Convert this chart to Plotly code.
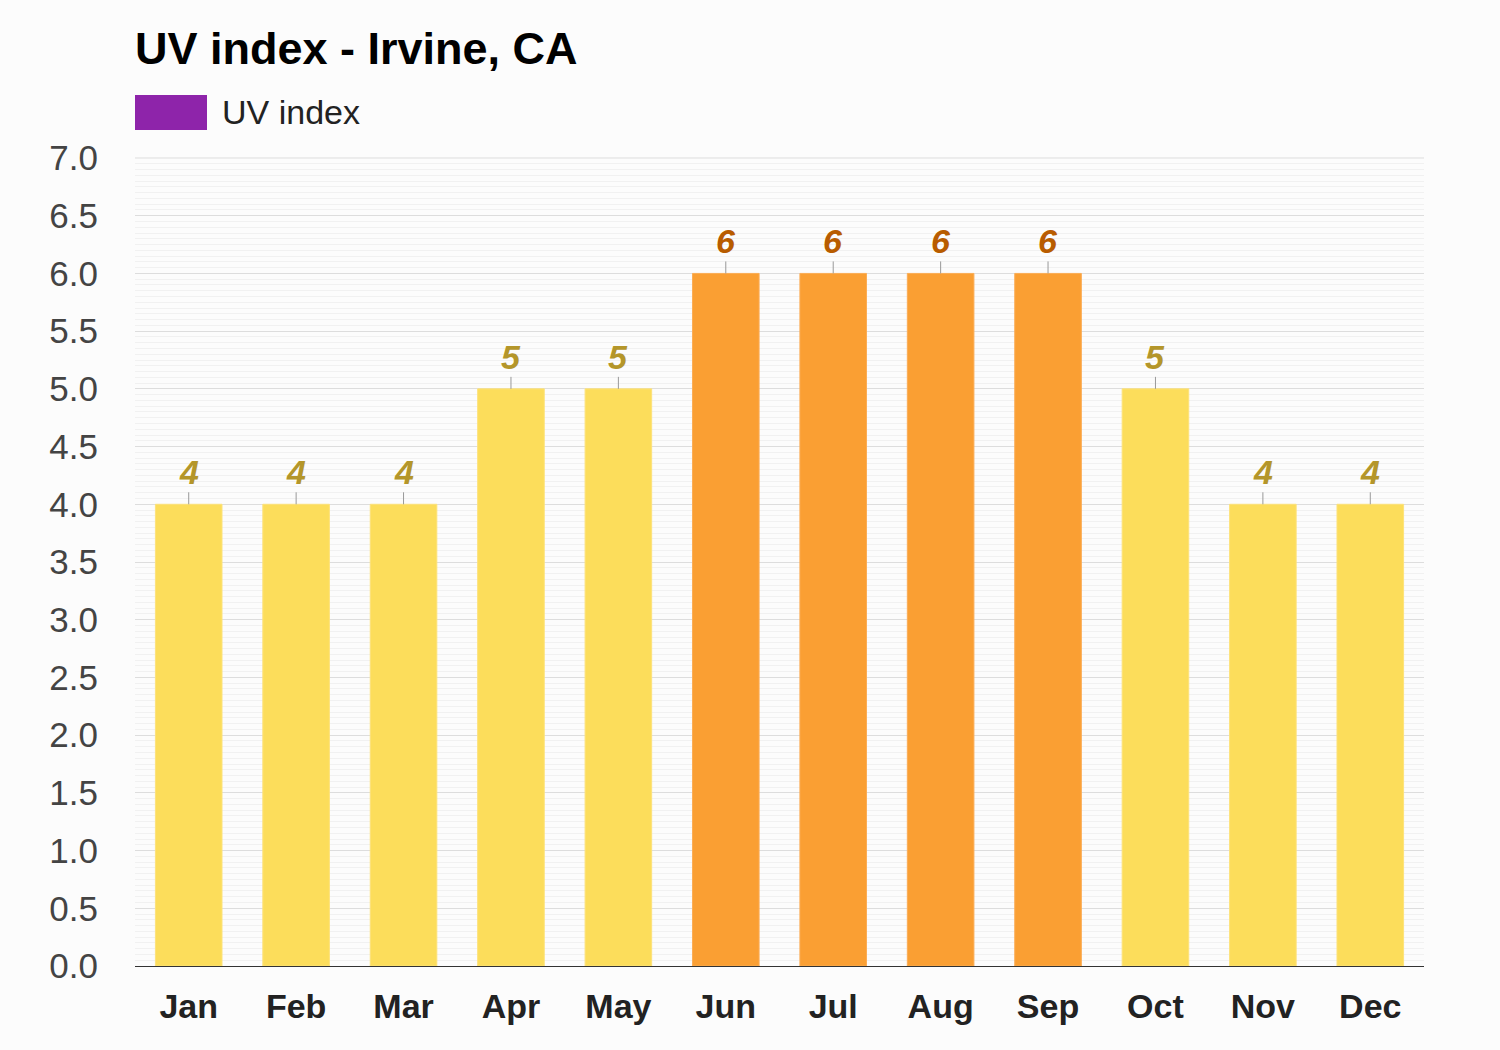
import plotly.graph_objects as go

months = ["Jan", "Feb", "Mar", "Apr", "May", "Jun", "Jul", "Aug", "Sep", "Oct", "Nov", "Dec"]
uv_index = [4, 4, 4, 5, 5, 6, 6, 6, 6, 5, 4, 4]
bar_colors = ["#fcdd5b" if v < 6 else "#fa9f33" for v in uv_index]
edge_colors = ["#fde27a" if v < 6 else "#fbad55" for v in uv_index]
label_colors = ["#b4962a" if v < 6 else "#b85c00" for v in uv_index]
y_ticks = [i * 0.5 for i in range(15)]
y_ticktext = [f"{t:.1f}" for t in y_ticks]

FONT = "Liberation Sans, Arial, sans-serif"

fig = go.Figure()
fig.add_trace(go.Bar(
    x=months, y=uv_index,
    marker=dict(color=bar_colors, line=dict(color=edge_colors, width=1)),
    showlegend=False, hoverinfo="x+y",
))

annotations = []
shapes = []
for m, v, c in zip(months, uv_index, label_colors):
    shapes.append(dict(type="line", xref="x", yref="y", ysizemode="pixel", yanchor=v,
                       x0=m, x1=m, y0=0, y1=12, line=dict(color="#999999", width=1)))
    annotations.append(dict(x=m, y=v, xref="x", yref="y", text=str(v), showarrow=False,
                            yanchor="bottom", yshift=11,
                            font=dict(family=FONT, size=34, color=c, weight="bold", style="italic")))

# top grid line at the upper edge of the plot
shapes.append(dict(type="line", xref="paper", yref="paper", x0=0, x1=1, y0=1, y1=1,
                   line=dict(color="#dddddd", width=1), layer="below"))

# legend
shapes.append(dict(type="rect", xref="paper", yref="paper", x0=0, x1=72 / 1289,
                   y0=(966 - 130) / 808, y1=(966 - 95) / 808,
                   fillcolor="#8e24aa", line=dict(width=0)))
annotations.append(dict(x=(220 - 135) / 1289, y=(966 - 112) / 808, xref="paper", yref="paper",
                        text="UV index", showarrow=False, xanchor="left", yanchor="middle",
                        font=dict(family=FONT, size=34, color="#222222")))

fig.update_layout(
    width=1500, height=1050,
    margin=dict(l=135, r=76, t=158, b=84),
    paper_bgcolor="#fcfcfc", plot_bgcolor="#fcfcfc",
    bargap=0.38,
    title=dict(text="<b>UV index - Irvine, CA</b>", x=135 / 1500, xanchor="left", xref="container",
               y=1 - 48 / 1050, yanchor="middle", yref="container",
               font=dict(family=FONT, size=45, color="#000000")),
    font=dict(family=FONT),
    shapes=shapes, annotations=annotations,
    xaxis=dict(tickfont=dict(family=FONT, size=34, color="#222222", weight="bold"),
               showgrid=False, showline=True, linecolor="#333333", linewidth=1,
               ticks="", ticklabelstandoff=10, range=[-0.5, 11.5]),
    yaxis=dict(range=[0, 7], tickvals=y_ticks, ticktext=y_ticktext,
               tickfont=dict(family=FONT, size=35, color="#444444"),
               showgrid=True, gridcolor="#dddddd", gridwidth=1, zeroline=False,
               ticks="", ticklabelstandoff=36,
               minor=dict(dtick=0.05, showgrid=True, gridcolor="#f1f1f1", gridwidth=1)),
)

fig.write_html("out.html")
